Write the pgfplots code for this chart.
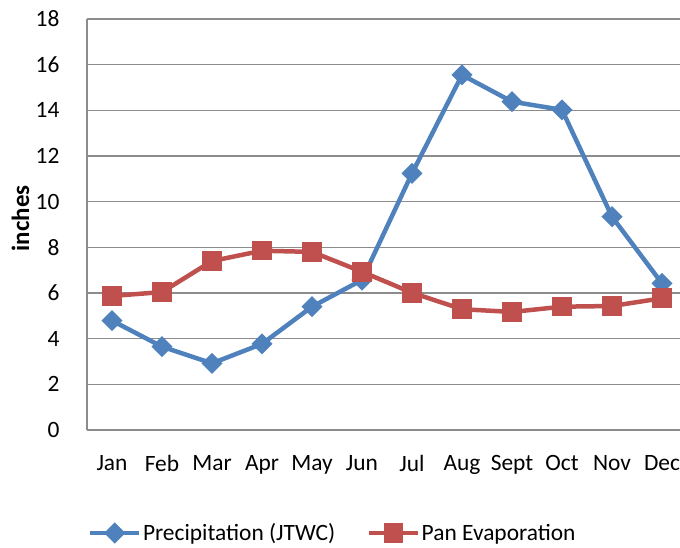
\documentclass[border=0pt]{standalone}
\usepackage{fontspec}
\setmainfont{Carlito}
\usepackage{pgfplots}
\pgfplotsset{compat=1.18}
\definecolor{pblue}{HTML}{4F81BD}
\definecolor{pred}{HTML}{C0504D}
\definecolor{gridc}{HTML}{8C8C8C}
\begin{document}
\begin{tikzpicture}[x=1bp,y=1bp]
\useasboundingbox (0,0) rectangle (680,548);
\begin{axis}[
  at={(87bp,118bp)}, anchor=south west, scale only axis,
  width=593bp, height=411bp,
  xmin=-0.5, xmax=11.36, ymin=0, ymax=18,
  ytick={0,2,...,18}, xtick={0,...,11},
  xticklabels={Jan,Feb,Mar,Apr,May,Jun,Jul,Aug,Sept,Oct,Nov,Dec},
  ymajorgrids, grid style={gridc, line width=1.3bp},
  axis x line*=bottom, axis y line*=left,
  axis line style={gridc, line width=1.3bp},
  major tick length=0,
  tick label style={font=\fontsize{23.5}{27}\selectfont, black},
  xticklabel style={yshift=-22bp},
  yticklabel style={xshift=-24bp},
  /pgf/number format/assume math mode=true,
  ylabel={\bfseries inches},
  ylabel style={font=\fontsize{25}{29}\selectfont, at={(axis description cs:-0.112,0.515)}, anchor=center},
  legend style={at={(axis description cs:0.414,-0.2506)}, anchor=center, draw=none, fill=none,
    legend columns=2, font=\fontsize{23.5}{27}\selectfont,
    nodes={inner sep=1.5bp},
    /tikz/every even column/.append style={column sep=30bp}},
  legend image code/.code={\draw[mark repeat=2,mark phase=2] plot coordinates {(0bp,0bp)(24.5bp,0bp)(49bp,0bp)};},
  clip=false,
]
\addplot[pblue, line width=4.5bp, mark=square*, mark size=5.2bp, mark options={rotate=45, solid}] coordinates {
(0,4.79) (1,3.65) (2,2.92) (3,3.77) (4,5.40) (5,6.57) (6,11.24) (7,15.55) (8,14.38) (9,14.02) (10,9.34) (11,6.42)};
\addlegendentry{Precipitation (JTWC)}
\addplot[pred, line width=4.5bp, mark=square*, mark size=7.5bp, mark options={solid}] coordinates {
(0,5.87) (1,6.04) (2,7.40) (3,7.85) (4,7.80) (5,6.93) (6,6.01) (7,5.29) (8,5.17) (9,5.40) (10,5.43) (11,5.77)};
\addlegendentry{Pan Evaporation}
\end{axis}
\end{tikzpicture}
\end{document}
